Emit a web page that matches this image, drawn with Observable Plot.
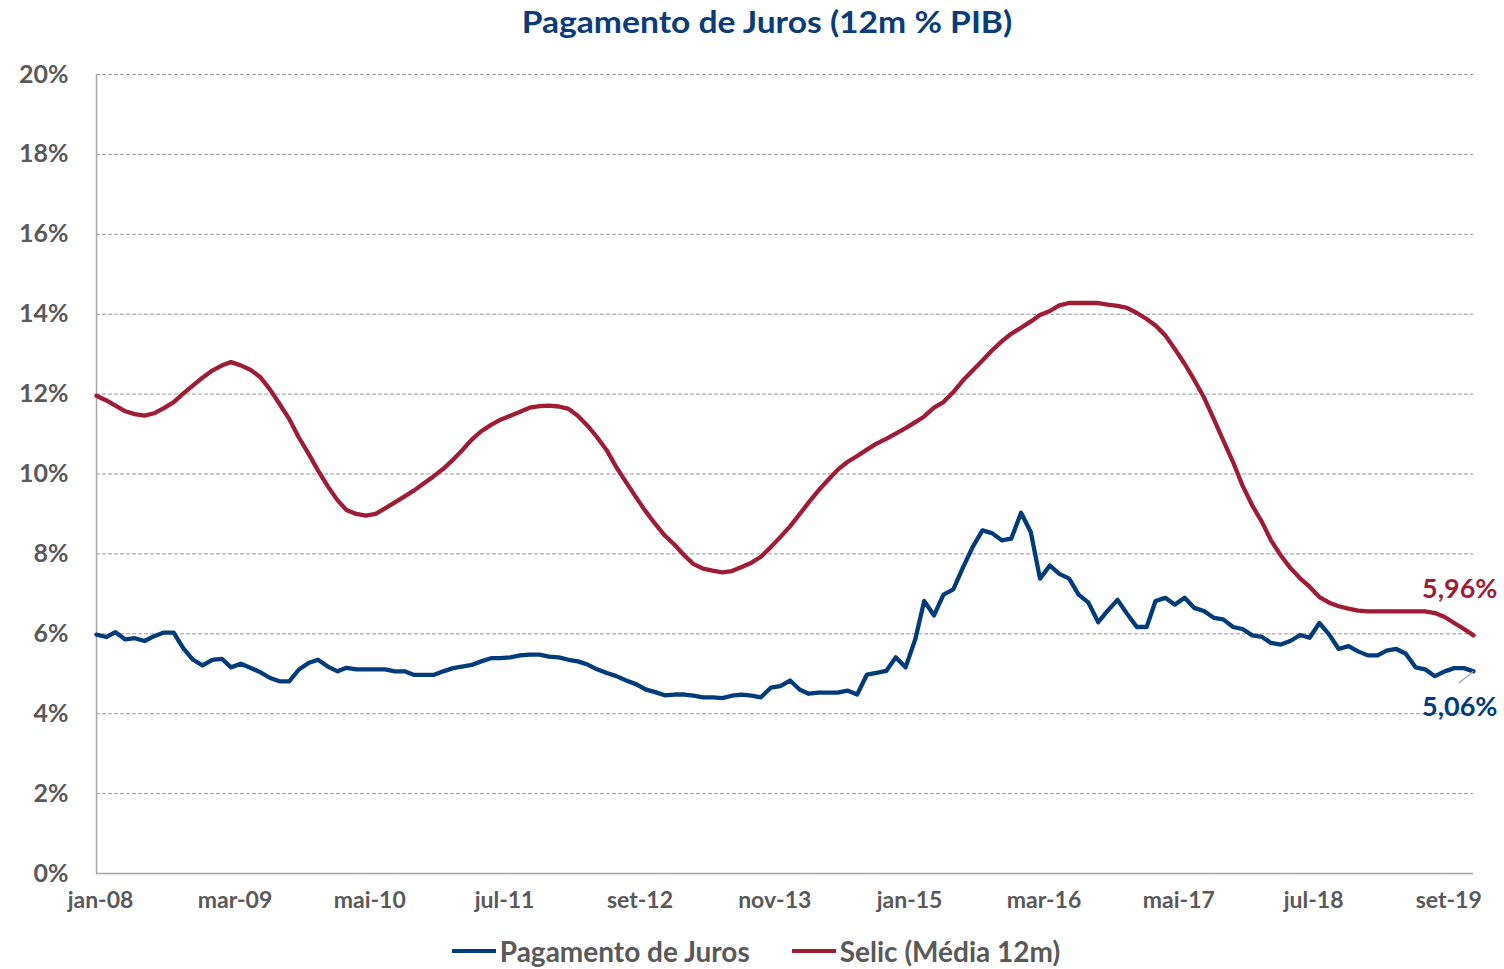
<!DOCTYPE html>
<html>
<head>
<meta charset="utf-8">
<script src="https://cdn.jsdelivr.net/npm/d3@7"></script>
<script src="https://cdn.jsdelivr.net/npm/@observablehq/plot@0.6"></script>
<style>
  html, body { margin: 0; padding: 0; background: #fff; }
  body { width: 1504px; height: 969px; overflow: hidden; font-family: Lato, "Open Sans", sans-serif; }
  #title { height: 45px; line-height: 42px; text-align: center; padding-left: 30px; box-sizing: border-box;
           font-weight: 700; font-size: 30px; color: #0b3c7a; }
  #title span { display: inline-block; transform: scaleX(1.12); }
  #chart svg { display: block; }
  #chart svg text { font-family: Lato, "Open Sans", sans-serif; }
  #legend { display: flex; justify-content: center; align-items: center; gap: 42px; height: 44px;
            padding-left: 8px; padding-top: 8px; box-sizing: border-box; font-weight: 700; font-size: 28px; color: #595959; }
  .item { display: flex; align-items: center; }
  .sw { width: 44px; height: 4px; margin-right: 4px; }
</style>
</head>
<body>
<div id="title"><span>Pagamento de Juros (12m % PIB)</span></div>
<div id="chart"></div>
<div id="legend"></div>
<script>
// ---- data (monthly, jan-08 .. dez-19) ----
const startYear = 2008;
const seriesNames = ["Pagamento de Juros", "Selic (Média 12m)"];
const seriesColors = ["#003b7a", "#a01c34"];
const juros = [
  5.98, 5.92, 6.04, 5.86, 5.89, 5.82, 5.94, 6.03, 6.03, 5.64, 5.35, 5.21,
  5.35, 5.37, 5.16, 5.25, 5.15, 5.04, 4.90, 4.81, 4.81, 5.10, 5.27, 5.35,
  5.18, 5.06, 5.15, 5.11, 5.11, 5.11, 5.11, 5.06, 5.06, 4.97, 4.97, 4.97,
  5.06, 5.14, 5.18, 5.22, 5.31, 5.39, 5.39, 5.41, 5.46, 5.48, 5.48, 5.43,
  5.41, 5.35, 5.31, 5.23, 5.11, 5.02, 4.94, 4.83, 4.74, 4.61, 4.54, 4.46,
  4.48, 4.48, 4.45, 4.41, 4.41, 4.39, 4.45, 4.48, 4.45, 4.41, 4.65, 4.69,
  4.83, 4.60, 4.50, 4.53, 4.53, 4.53, 4.58, 4.48, 4.98, 5.02, 5.07, 5.41,
  5.16, 5.87, 6.82, 6.46, 6.98, 7.11, 7.65, 8.17, 8.59, 8.52, 8.34, 8.38,
  9.03, 8.54, 7.38, 7.71, 7.50, 7.38, 6.98, 6.78, 6.29, 6.58, 6.85, 6.50,
  6.17, 6.17, 6.82, 6.90, 6.73, 6.90, 6.65, 6.57, 6.40, 6.36, 6.17, 6.12,
  5.96, 5.92, 5.77, 5.73, 5.82, 5.97, 5.90, 6.27, 5.98, 5.62, 5.69, 5.56,
  5.46, 5.46, 5.58, 5.62, 5.50, 5.16, 5.11, 4.94, 5.06, 5.14, 5.14, 5.06
];
const selic = [
  11.96, 11.84, 11.71, 11.57, 11.50, 11.46, 11.52, 11.65, 11.80, 12.01, 12.22, 12.41,
  12.59, 12.72, 12.80, 12.72, 12.61, 12.43, 12.13, 11.76, 11.38, 10.92, 10.51, 10.09,
  9.69, 9.34, 9.10, 9.00, 8.96, 9.00, 9.14, 9.29, 9.44, 9.59, 9.77, 9.94,
  10.13, 10.36, 10.59, 10.86, 11.07, 11.23, 11.36, 11.46, 11.56, 11.66, 11.70, 11.71,
  11.69, 11.63, 11.46, 11.21, 10.92, 10.59, 10.17, 9.79, 9.42, 9.07, 8.75, 8.46,
  8.23, 7.96, 7.75, 7.63, 7.58, 7.54, 7.57, 7.67, 7.78, 7.93, 8.17, 8.42,
  8.69, 9.00, 9.29, 9.59, 9.85, 10.11, 10.30, 10.45, 10.61, 10.76, 10.88, 11.01,
  11.15, 11.30, 11.44, 11.66, 11.80, 12.05, 12.34, 12.59, 12.84, 13.09, 13.32, 13.51,
  13.66, 13.82, 13.98, 14.08, 14.22, 14.28, 14.28, 14.28, 14.28, 14.24, 14.21, 14.16,
  14.03, 13.88, 13.72, 13.47, 13.13, 12.76, 12.36, 11.92, 11.38, 10.84, 10.30, 9.71,
  9.21, 8.79, 8.34, 7.96, 7.65, 7.39, 7.18, 6.92, 6.78, 6.69, 6.63, 6.58,
  6.56, 6.56, 6.56, 6.56, 6.56, 6.56, 6.56, 6.52, 6.42, 6.27, 6.12, 5.96
];
const monthNames = ["jan","fev","mar","abr","mai","jun","jul","ago","set","out","nov","dez"];
const yTicks = [0, 2, 4, 6, 8, 10, 12, 14, 16, 18, 20];
const xTickStep = 14; // months between axis labels

// ---- build table ----
const dates = juros.map((_, i) => new Date(Date.UTC(startYear, i, 1)));
const rows = [];
dates.forEach((d, i) => {
  rows.push({date: d, value: juros[i], serie: seriesNames[0]});
  rows.push({date: d, value: selic[i], serie: seriesNames[1]});
});
const xTicks = dates.filter((_, i) => i % xTickStep === 0);
const fmtMonth = d => monthNames[d.getUTCMonth()] + "-" + String(d.getUTCFullYear()).slice(2);
const fmtPct = v => v.toFixed(2).replace(".", ",") + "%";
const last = dates.length - 1;
const lastDate = dates[last];
const leaderEnd = new Date(+lastDate - 1.55 * 30.44 * 864e5);

const chart = Plot.plot({
  width: 1504,
  height: 880,
  marginLeft: 96,
  marginRight: 31,
  marginTop: 29,
  marginBottom: 52,
  x: {type: "utc", domain: [dates[0], lastDate]},
  y: {domain: [0, 20]},
  marks: [
    Plot.ruleY(yTicks.filter(v => v > 0), {stroke: "#9a9a9a", strokeWidth: 1, strokeDasharray: "4,2"}),
    Plot.ruleY([0], {stroke: "#a6a6a6", strokeWidth: 1.5}),
    Plot.ruleX([dates[0]], {y1: 0, y2: 20, stroke: "#a6a6a6", strokeWidth: 1.5}),
    Plot.axisY({ticks: yTicks, tickFormat: v => v + "%", tickSize: 0, tickPadding: 28, label: null,
                fontSize: 25, fontWeight: 700, fill: "#595959"}),
    Plot.axisX({ticks: xTicks, tickFormat: fmtMonth, tickSize: 0, tickPadding: 18, label: null, dx: 4,
                fontSize: 23, fontWeight: 700, fill: "#595959"}),
    Plot.line(rows, {x: "date", y: "value", z: "serie",
                     stroke: d => d.serie === seriesNames[0] ? seriesColors[0] : seriesColors[1],
                     strokeWidth: 4.3, strokeLinejoin: "round", curve: "linear"}),
    Plot.link([0], {x1: () => lastDate, y1: () => juros[last], x2: () => leaderEnd, y2: () => juros[last] - 0.3,
                    stroke: "#a6a6a6", strokeWidth: 1.3}),
    Plot.text([selic[last]], {x: () => lastDate, y: d => d, text: fmtPct, dx: 24, dy: -46,
                              textAnchor: "end", fill: seriesColors[1], fontSize: 27, fontWeight: 700}),
    Plot.text([juros[last]], {x: () => lastDate, y: d => d, text: fmtPct, dx: 24, dy: 36,
                              textAnchor: "end", fill: seriesColors[0], fontSize: 27, fontWeight: 700})
  ]
});
document.getElementById("chart").appendChild(chart);

// ---- legend ----
const legend = document.getElementById("legend");
seriesNames.forEach((name, i) => {
  const item = document.createElement("div");
  item.className = "item";
  const sw = document.createElement("div");
  sw.className = "sw";
  sw.style.background = seriesColors[i];
  const label = document.createElement("span");
  label.textContent = name;
  item.appendChild(sw);
  item.appendChild(label);
  legend.appendChild(item);
});
</script>
</body>
</html>
